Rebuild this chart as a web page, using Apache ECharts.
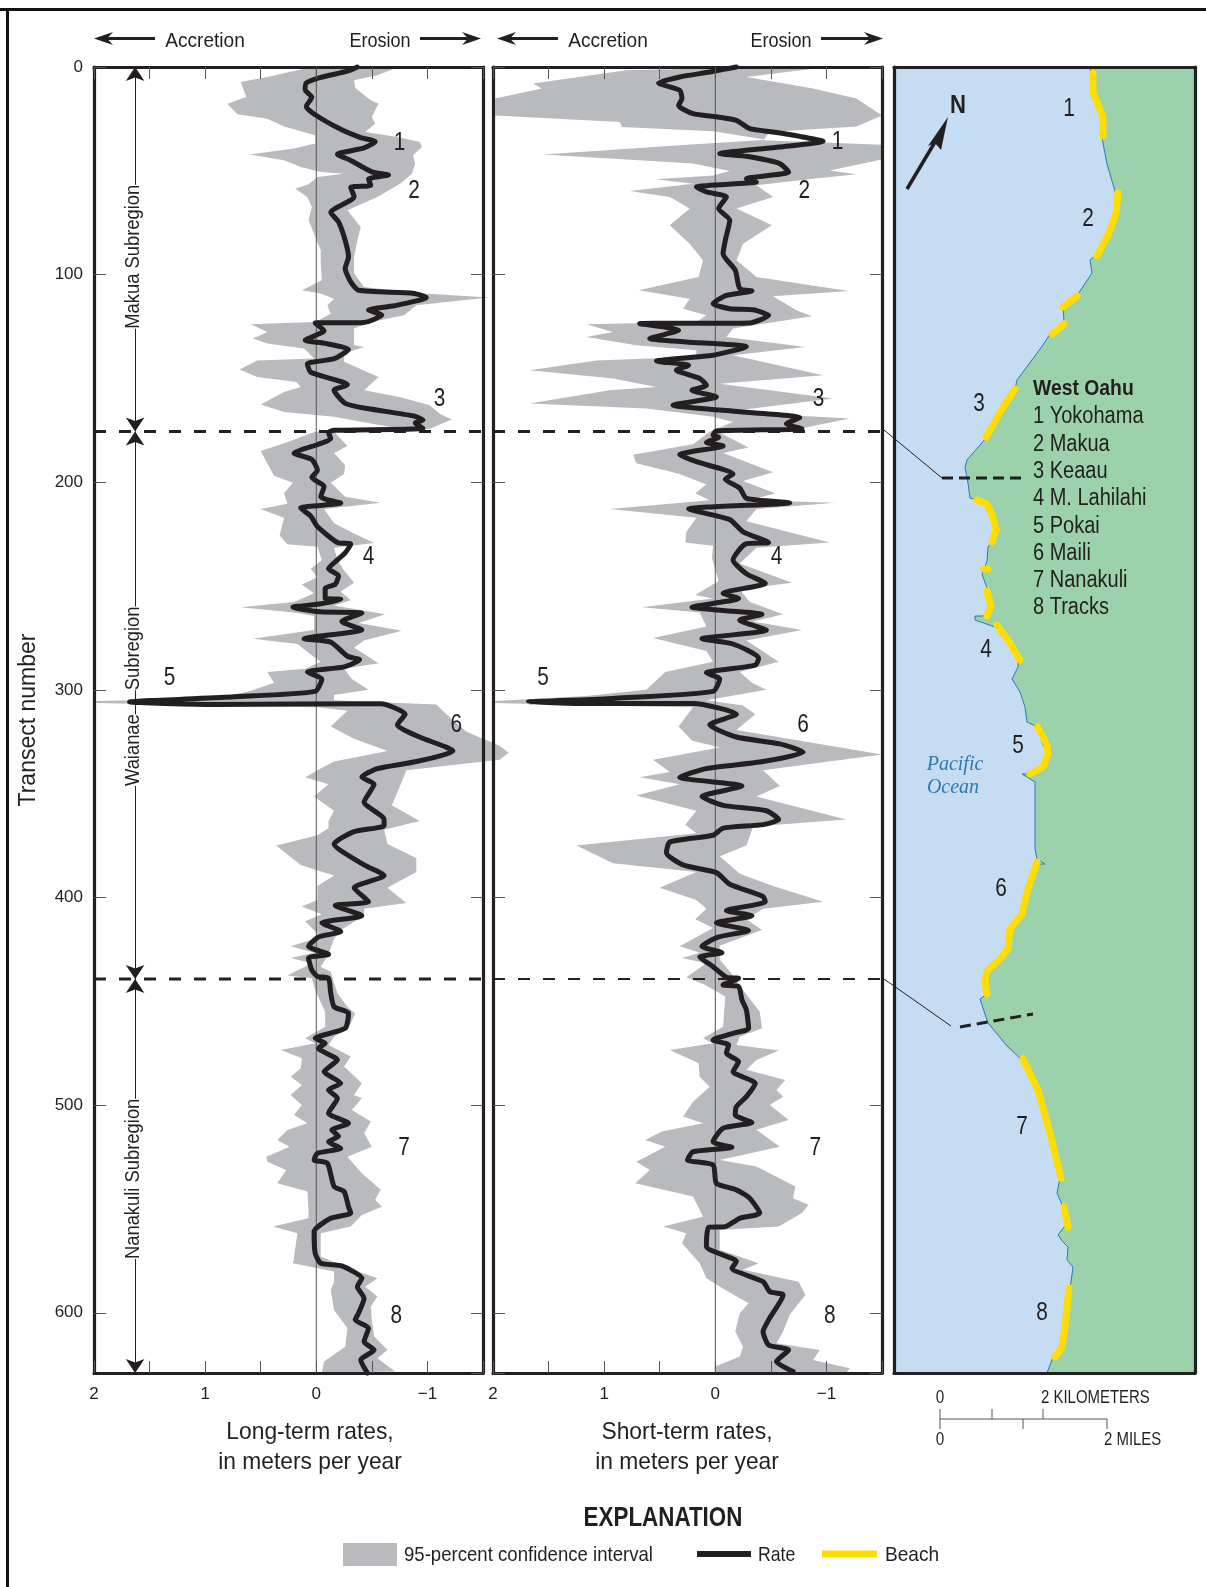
<!DOCTYPE html>
<html><head><meta charset="utf-8">
<style>html,body{margin:0;padding:0;background:#fff}#c{width:1206px;height:1587px}</style>
<script src="https://cdn.jsdelivr.net/npm/echarts@6/dist/echarts.min.js"></script>
</head><body><div id="c"></div>
<script>
// All pairs are [rate in m/yr, transect number]
const longRate=[[-0.37,0],[-0.28,2],[-0.04,5],[0.09,7.7],[0.10,11],[0.04,14.5],[0.09,19],[0.01,23],[-0.22,30],[-0.40,34],[-0.53,36],[-0.43,39],[-0.19,42],[-0.31,45],[-0.50,50.5],[-0.65,52],[-0.47,54],[-0.49,57],[-0.31,58],[-0.34,62.5],[-0.13,70],[-0.20,74.6],[-0.26,83.5],[-0.29,91.5],[-0.26,97],[-0.31,103.5],[-0.38,107.5],[-0.87,109],[-0.99,111],[-0.70,115],[-0.47,117],[-0.59,119.5],[-0.43,123],[0.01,123.3],[-0.07,127],[0.10,131.6],[-0.07,133],[-0.29,136],[-0.16,140.5],[0.08,143],[0.05,147],[-0.28,153],[-0.16,155.7],[-0.26,162],[-0.46,164.5],[-0.87,168],[-0.96,170],[-0.89,171.4],[-0.96,174],[-0.16,175],[-0.11,176],[-0.13,179],[-0.02,181.7],[0.20,186],[0.04,189],[-0.01,194.3],[0.04,197.7],[-0.07,202],[-0.04,207],[-0.22,210],[0.14,212.4],[0.05,216.3],[-0.01,221.3],[-0.19,229],[-0.31,229.8],[-0.26,234],[-0.19,237.4],[-0.11,241.6],[-0.20,245],[-0.17,249.2],[-0.08,251],[-0.08,256],[-0.22,256.3],[-0.04,258.5],[0.21,260.2],[-0.04,262.4],[-0.41,263],[-0.23,267],[-0.41,271],[0.11,275.4],[-0.13,277],[-0.28,283.8],[-0.39,285.5],[-0.25,288.9],[0.08,291.4],[-0.05,294.8],[0.01,300.7],[0.74,303.3],[1.68,305.8],[0.92,307],[-0.58,306.7],[-0.80,311.7],[-0.73,316.8],[-0.93,322.7],[-1.23,329.4],[-0.90,334.5],[-0.55,337.9],[-0.41,342],[-0.52,345.5],[-0.43,354],[-0.61,362.4],[-0.61,365.4],[-0.34,368.3],[-0.16,374.2],[-0.43,384.3],[-0.61,389.4],[-0.34,395.3],[-0.47,402],[-0.17,403.8],[-0.41,408.8],[-0.05,412.2],[-0.22,416.4],[-0.02,419],[0.07,423.5],[-0.11,427.4],[0.07,429.1],[0.04,435],[-0.01,438],[-0.11,438.9],[-0.13,446],[-0.16,452.6],[-0.29,455.8],[-0.26,463],[0.01,467.8],[-0.08,470.2],[-0.02,472.6],[-0.19,478.2],[-0.07,483.9],[-0.22,489.5],[-0.11,492.7],[-0.19,496.7],[-0.11,503.9],[-0.29,508.7],[-0.14,512],[-0.20,515],[-0.11,517.6],[-0.22,520.8],[-0.01,523.2],[0.02,526.4],[-0.10,528],[-0.16,539.2],[-0.25,541.6],[-0.29,548.9],[-0.31,552],[-0.13,554.5],[0.02,560.9],[0.01,571.3],[-0.04,576.1],[-0.23,577.4],[-0.41,583.4],[-0.37,587.4],[-0.43,593],[-0.38,600.2],[-0.35,603.4],[-0.47,607.4],[-0.43,613.9],[-0.52,617.9],[-0.40,622.7],[-0.46,629]];
const longUpper=[[0.11,0.8],[0.44,4.8],[0.68,7.2],[0.63,14.4],[0.80,17.7],[0.71,22.8],[0.44,24.9],[0.29,28.6],[0.01,32.9],[0.01,36.9],[0.20,39.3],[0.60,42.1],[0.29,44.9],[0.14,48.2],[-0.04,50.6],[-0.25,51.4],[-0.01,53],[0.07,56.5],[0.19,58.6],[0.08,62.6],[0.04,67.4],[0.07,73.8],[0.02,80.3],[-0.04,88.3],[-0.04,94.7],[-0.05,102.7],[0.13,107.5],[-0.04,109.1],[-0.16,111.6],[-0.10,114.8],[-0.13,118.8],[0.01,122.8],[0.59,123.9],[0.44,127.6],[0.57,130.8],[0.44,133.2],[0.11,135.6],[0.02,140.4],[0.53,141.3],[0.69,145.7],[0.53,149.3],[0.18,151.7],[0.14,154.1],[0.29,156.5],[0.50,162.6],[0.29,166.1],[-0.16,168.5],[-0.40,170.9],[-0.76,174.2],[-0.16,175],[0.01,175.7],[0.27,180.8],[0.50,185],[0.44,191],[0.38,196.9],[0.21,200.2],[0.29,205.3],[0.26,210.4],[0.50,212.9],[0.29,217.1],[0.33,225.6],[0.26,229.8],[-0.01,231],[-0.05,237.4],[0.05,241.6],[-0.01,245.8],[0.13,249.2],[0.02,253.4],[0.20,257.7],[0.68,260.2],[0.20,262.7],[0.02,264.4],[0.02,271.2],[0.57,275.4],[0.17,277.9],[0.05,283],[-0.04,286.4],[0.10,289.8],[0.44,291.4],[0.38,296.5],[0.60,300.7],[0.92,304.1],[1.98,305.3],[1.98,306.3],[0.92,307.5],[-0.01,308.3],[-0.28,310],[-0.13,317.6],[-0.34,323.5],[-0.64,329.4],[-0.16,334.5],[-0.01,338.7],[0.10,342.1],[-0.11,345.5],[0.02,351.4],[-0.16,358.2],[-0.11,363.2],[-0.11,366.6],[-0.01,370],[0.36,375],[0.14,384.3],[-0.16,389.4],[-0.01,394.5],[-0.01,401.2],[0.13,404.3],[-0.05,408],[0.10,411.4],[-0.04,419],[0.23,423.5],[0.02,426.6],[0.23,429.1],[0.04,431.6],[0.26,437.5],[0.04,438.9],[0.01,444.5],[-0.08,455],[-0.08,462.2],[0.10,467.8],[0.01,470.2],[0.32,473.4],[0.13,477.4],[0.14,482.2],[0.23,486.3],[0.13,490.3],[0.23,495.1],[0.13,499.9],[0.20,504.7],[0.08,508.7],[0.26,512],[0.35,516.8],[0.24,520],[0.45,524.8],[0.44,527.2],[0.27,531.2],[0.35,537.6],[0.08,541.6],[0.07,550.5],[0.07,554.5],[0.39,558.5],[0.17,561.7],[0.20,572.9],[0.21,576.1],[-0.16,580.1],[-0.16,585],[-0.13,589],[-0.16,598.6],[-0.28,607.4],[-0.26,616.3],[-0.07,623.5],[-0.05,628.8]];
const longLower=[[-0.70,0.8],[-0.55,4],[-0.34,6.4],[-0.35,10],[-0.49,16],[-0.56,17.7],[-0.50,24],[-0.53,27.3],[-0.44,31.3],[-0.73,33.7],[-0.93,36.1],[-0.95,38.5],[-0.87,42.5],[-0.89,46.5],[-0.86,51.4],[-0.76,56],[-0.55,62.6],[-0.28,69],[-0.40,77],[-0.37,83.5],[-0.34,91.5],[-0.34,99.5],[-0.43,106],[-0.90,108.8],[-1.55,111],[-0.90,114.8],[-0.79,119.6],[-0.49,122.8],[-0.34,126],[-0.34,134],[-0.43,134.8],[-0.25,138],[-0.25,142],[-0.56,149.3],[-0.43,155.7],[-0.76,159],[-1.02,162.9],[-1.11,167],[-1.22,169.8],[-1.02,174.2],[-0.28,175.3],[-0.16,175.7],[-0.28,182.5],[-0.16,185.9],[-0.26,191.8],[-0.25,196],[-0.13,200.2],[-0.26,207],[-0.58,209.9],[-0.07,212.9],[-0.16,219.7],[-0.34,224.7],[-0.52,229.3],[-0.16,231.5],[-0.19,237.4],[-0.25,242.5],[-0.34,248.4],[-0.22,252.6],[-0.31,256.8],[-0.16,259.4],[-0.62,263.6],[-0.38,267.8],[-0.77,271.5],[-0.43,276.2],[-0.34,279.6],[-0.56,287.2],[-0.25,289.8],[-0.32,294.8],[-0.47,299.9],[-0.16,302.4],[-0.16,305],[-1.08,307],[-1.17,311.7],[-1.35,320.2],[-1.65,326.9],[-1.73,330.3],[-1.65,333.7],[-0.81,338.7],[-0.76,345.5],[-0.68,355.6],[-0.93,363.2],[-0.61,367.4],[-0.64,374.2],[-0.90,381],[-0.90,387.7],[-0.64,395.3],[-0.81,402.6],[-0.43,405.4],[-0.43,408.8],[-0.22,415.6],[-0.16,419.8],[-0.11,427.4],[-0.04,433.3],[-0.13,435.7],[-0.16,441.3],[-0.19,446.1],[-0.28,452.6],[-0.35,455.8],[-0.29,463],[-0.16,467],[-0.11,471],[-0.31,476.6],[-0.25,481.4],[-0.41,489.5],[-0.34,495.1],[-0.41,496.7],[-0.32,502.3],[-0.49,507.9],[-0.43,513.5],[-0.50,520],[-0.28,524.8],[-0.41,532.8],[-0.58,540.8],[-0.53,545.6],[-0.59,548.9],[-0.41,552.9],[-0.31,558.5],[-0.04,561.7],[-0.04,572.9],[-0.25,577.7],[-0.55,583.4],[-0.44,587.4],[-0.55,592.2],[-0.49,597],[-0.50,603.4],[-0.52,611.4],[-0.64,617.9],[-0.55,621.9],[-0.71,628.3]];
const shortRate=[[-0.19,0],[0.05,2.4],[0.32,4.8],[0.51,7.7],[0.32,11.2],[0.30,15.2],[0.33,18.5],[0.20,22.5],[-0.01,24],[-0.19,25.7],[-0.31,29.7],[-0.52,31.3],[-0.76,33.4],[-0.97,35.8],[-0.58,38.5],[-0.04,41.7],[-0.28,43],[-0.58,46.5],[-0.66,50.6],[-0.28,53.8],[-0.37,55.4],[0.17,57.8],[0.08,60.2],[-0.10,62.6],[-0.03,68.2],[-0.13,73.8],[-0.09,83.5],[-0.07,89.9],[-0.18,97.9],[-0.22,106.7],[-0.33,107.9],[-0.10,110],[0.02,114],[-0.13,116.4],[-0.34,116.9],[-0.48,119.6],[-0.31,123.3],[0.68,123.6],[0.33,126.8],[0.59,130.8],[0.26,132.4],[-0.28,134.7],[0.02,138.8],[0.53,141.6],[0.24,143.7],[0.35,146],[0.14,150],[0.08,153.3],[0.21,155.7],[-0.01,158.9],[0.38,162.9],[0.02,165],[-0.76,168.9],[-0.64,171.8],[-0.78,174.2],[-0.01,175.3],[0.02,177.4],[-0.03,178.3],[0.08,180.8],[-0.07,182.5],[0.32,186.7],[0.17,190.1],[-0.16,196],[-0.09,198.5],[-0.22,202.8],[-0.28,207.8],[-0.67,209.9],[0.24,212.9],[-0.13,218],[-0.25,223.9],[-0.48,229],[-0.27,229.8],[-0.16,237.4],[-0.28,244.1],[-0.45,248.7],[-0.07,253.4],[-0.21,256],[-0.06,257.7],[0.21,260.2],[-0.10,261.9],[-0.42,263.6],[-0.22,266.4],[-0.46,271.2],[0.12,275.4],[-0.16,277.9],[-0.39,284.7],[-0.36,288.1],[0.08,291.8],[-0.04,294.8],[0.02,300.7],[0.92,304.1],[1.68,305.8],[0.92,306.6],[0.20,306.6],[-0.19,311.7],[0.05,316.8],[-0.19,322.7],[-0.58,326],[-0.79,330],[-0.43,334.5],[0.08,337.9],[0.32,342.1],[-0.24,346.3],[0.12,351.4],[-0.07,355.6],[-0.46,358.2],[-0.57,362.4],[-0.43,364.9],[-0.07,366.6],[0.02,370],[0.41,373.3],[0.44,378.4],[0.29,384.3],[-0.01,388],[-0.13,393.6],[-0.43,399.5],[-0.45,402],[-0.10,406.3],[-0.33,408.8],[-0.01,412.2],[-0.30,415.9],[-0.03,419],[0.12,423.5],[-0.06,426.6],[0.14,428.6],[0.02,433.3],[-0.10,438.4],[-0.21,438.9],[-0.07,442.1],[-0.21,442.9],[-0.24,449.3],[-0.28,454.2],[-0.30,463],[-0.16,465.4],[0.02,468.6],[-0.12,471],[-0.10,475],[-0.21,479],[-0.16,483.9],[-0.36,489.5],[-0.28,495.9],[-0.19,500.7],[-0.18,504.7],[-0.33,508.4],[-0.07,511.1],[0.02,517.6],[-0.15,520.3],[0.20,522.4],[0.25,526.4],[0.02,528.8],[-0.01,537.6],[-0.19,540.8],[-0.31,544.8],[-0.40,552],[-0.22,554.5],[-0.09,558.5],[0.06,558.8],[0.08,568.1],[-0.19,575.3],[-0.15,578.5],[-0.43,585],[-0.49,589.8],[-0.61,591.4],[-0.48,603.4],[-0.43,609],[-0.48,615.5],[-0.66,617.9],[-0.55,623.5],[-0.70,628.3]];
const shortUpper=[[0.17,0.8],[0.80,1.6],[1.64,8],[1.56,10.4],[1.98,15.2],[1.98,23.3],[0.86,26.5],[0.84,28.9],[0.02,31],[-0.46,35],[0.32,37.7],[1.55,42.1],[0.20,46.5],[-0.13,50.1],[0.02,52.2],[0.54,54.1],[0.20,56.2],[0.77,59.7],[0.41,62.6],[0.23,68.2],[0.41,76.2],[0.23,85.1],[0.11,93.1],[0.15,101.1],[0.69,107.5],[0.23,111.6],[0.29,116.4],[0.08,119.6],[0.17,122.8],[1.16,123.9],[0.92,127.6],[1.16,130],[0.71,134],[0.17,136.4],[0.17,139.6],[1.07,141.3],[1.67,146],[0.92,150],[0.53,154.1],[0.95,155.7],[1.67,162.1],[0.62,164.5],[0.02,168.5],[-0.16,171],[0.02,175],[0.05,175.7],[0.20,181.7],[0.74,186.7],[0.71,190.9],[0.32,196],[0.08,201.1],[0.18,205.3],[0.05,208.7],[0.95,212.9],[0.17,217.1],[0.26,223.9],[0.27,229],[0.02,230.6],[0.03,236.5],[-0.03,247.5],[0.18,254.3],[0.02,256],[0.66,260.2],[0.14,262.7],[0.08,269.5],[0.56,275],[0.08,281.3],[0.02,286.4],[0.45,291.4],[0.62,299.9],[1.16,302.9],[1.98,305.3],[1.98,306.3],[1.16,307.5],[0.20,308.3],[0.33,317.6],[0.21,324.4],[-0.04,327.8],[0.56,333.7],[0.41,339.6],[0.68,342.1],[0.32,345.5],[0.71,350.9],[0.17,358.2],[0.27,364.9],[0.17,369.1],[1.25,375],[0.92,383.5],[0.17,387.7],[0.50,395.3],[0.17,401.2],[0.08,405.4],[0.18,410.5],[0.02,414.7],[0.32,423.5],[0.14,426.6],[0.30,429.1],[0.08,431.6],[0.26,438.4],[0.09,442.1],[-0.09,447.7],[-0.07,462.2],[0.11,467.8],[0.02,470.2],[0.41,473.4],[0.15,479.8],[0.14,486.3],[0.05,491.1],[0.20,498.3],[0.29,505.5],[0.11,508.7],[0.48,512.7],[0.63,516.8],[0.45,520],[0.71,527.2],[0.59,531.2],[0.72,537.6],[0.20,544],[0.11,553.7],[0.47,558.5],[0.26,561.7],[0.30,566.5],[0.14,576.1],[0.08,583.4],[-0.09,589],[-0.30,595.4],[-0.22,600.2],[-0.18,609],[-0.25,616.3],[-0.22,621.1],[0,625.9],[-0.01,628.8]];
const shortLower=[[-0.88,0.8],[-0.28,4.8],[-0.88,10.4],[-1.27,15.2],[-1.50,23.3],[-1.27,28.6],[-0.49,31.3],[-0.43,35.3],[-1.50,37.4],[-1.50,44.6],[-1.03,49.8],[-1.27,51.7],[-0.88,53.8],[-0.37,57],[-0.52,62.6],[-0.19,68.2],[-0.51,76.2],[-0.25,85.1],[-0.19,93.1],[-0.37,101.1],[-1.20,107.9],[-0.52,110.4],[-0.73,117.2],[-0.87,120.1],[-0.43,123.6],[-0.16,126],[-0.10,130],[-0.81,134.8],[-0.16,138.8],[-0.97,148.5],[-0.04,152.5],[-1.06,159.7],[-0.10,166],[-1.21,169.3],[-0.76,174.2],[-0.01,175.3],[-0.30,183.3],[-0.07,185.9],[-0.52,195.2],[-0.25,199.4],[-0.54,205.3],[-0.31,208.7],[-1.08,209.9],[-0.37,212.9],[-0.28,218.8],[-1.03,229],[-0.37,231.5],[-0.22,239.1],[-0.69,248.4],[-0.22,251.7],[-0.31,257.7],[-0.61,263.6],[-0.34,267],[-0.78,271.2],[-0.28,276.2],[-0.57,286.4],[-0.22,291.4],[-0.33,296.5],[-0.46,299.9],[0.08,305],[-0.25,307.5],[-0.36,311.7],[-0.19,319.3],[-1.50,331.1],[-0.43,338.7],[-0.58,346.3],[-0.37,351.4],[-1.18,362.4],[-0.34,365.8],[-0.28,375],[-0.04,380.1],[-0.22,388.6],[-0.52,394.5],[-0.97,402],[-0.43,405.4],[-0.28,410.5],[-0.42,415.6],[-0.04,423.2],[-0.04,429.9],[-0.16,437.5],[-0.25,444.5],[-0.40,455],[-0.42,463],[-0.22,467],[-0.19,471],[-0.57,473.7],[-0.37,478.2],[-0.28,483],[-0.63,487.9],[-0.55,492.7],[-0.61,495.9],[-0.49,499.9],[-0.66,507.1],[-0.37,511.9],[-0.58,520],[-0.04,526.4],[-0.37,529.6],[-0.72,539.2],[-0.70,544.8],[-0.84,548],[-0.78,552],[-0.57,558.5],[-0.04,560.1],[-0.04,569.7],[-0.39,576.1],[-0.25,579.3],[-0.75,585],[-0.81,591.4],[-0.67,601],[-0.61,609],[-0.55,614.7],[-0.94,617.9],[-0.88,622.7],[-1.21,626.7],[-1.18,628.8]];
const boundaries=[175.5,439.3];
const longNumbers=[[-0.75,36.3,'1'],[-0.88,59.8,'2'],[-1.11,160,'3'],[-0.47,236,'4'],[1.32,294.3,'5'],[-1.26,317,'6'],[-0.79,520.6,'7'],[-0.72,601.7,'8']];
const shortNumbers=[[-1.10,35.8,'1'],[-0.80,59.8,'2'],[-0.93,160,'3'],[-0.55,236,'4'],[1.55,294.3,'5'],[-0.79,317,'6'],[-0.90,520.6,'7'],[-1.03,601.7,'8']];
const subregionSpans=[[0,175.5],[175.5,439.3],[439.3,629]];
const subregionLabels=[[1.645,91.4,'Makua Subregion'],[1.645,280,'Subregion'],[1.645,329,'Waianae'],[1.645,535.5,'Nanakuli Subregion']];
// map panel, in map units (east, south)
const coast=[[196,0.7],[198,12.5],[199,29],[208,52],[208,71],[213,97],[221,124],[223,143],[216,168],[201,189],[196,193],[198,206],[184,227],[169,240],[170,254],[156,267],[149,278],[123,313],[121,322],[106,345],[93,370],[73,393],[71,400],[74,416],[76,431],[84,433],[98,444],[103,463],[98,475],[94,480],[93,494],[88,507],[94,524],[98,539],[93,549],[81,549],[81,553],[101,560],[114,576],[124,593],[124,600],[118,612],[126,625],[131,640],[133,655],[144,660],[149,678],[156,688],[151,700],[136,707],[128,707],[141,715],[141,782],[143,792],[151,797],[143,797],[133,825],[128,847],[116,862],[114,882],[104,894],[93,904],[89,914],[93,927],[86,932],[94,956],[113,979],[129,994],[143,1021],[153,1056],[159,1081],[166,1111],[163,1126],[169,1140],[174,1155],[164,1168],[169,1175],[174,1180],[173,1193],[179,1200],[176,1222],[171,1260],[166,1280],[159,1290],[153,1306]];
const beaches=[[[199,6],[199,25],[209,50],[209,69]],[[224,126],[222,147],[214,168],[203,189]],[[183,229],[169,240]],[[170,257],[158,267]],[[121,322],[106,345],[101,355],[92,370]],[[83,433],[93,437],[99,450],[102,463],[98,475]],[[90,502],[94,502]],[[93,524],[97,539],[93,549]],[[103,558],[116,576],[126,593]],[[144,660],[153,678],[154,688],[149,700],[136,707]],[[143,795],[133,825],[128,847],[116,862],[114,882],[104,894],[93,904],[91,914],[93,927]],[[129,992],[144,1023],[156,1066],[167,1111]],[[170,1140],[174,1160]],[[175,1221],[171,1260],[168,1280],[161,1290]]];
const mapDivides=[[[48,411],[130,411]],[[66,960],[139,947]]];
const mapNumbers=[[175,42,'1'],[194,152,'2'],[85,337,'3'],[92,583,'4'],[124,679,'5'],[107,822,'6'],[128,1060,'7'],[148,1246,'8']];
const beachList=['1 Yokohama','2 Makua','3 Keaau','4 M. Lahilahi','5 Pokai','6 Maili','7 Nanakuli','8 Tracks'];

const FONT="'Liberation Sans',sans-serif";
const INK='#231f20',GREY='#b9babd',TICK='#555',YELLOW='#ffdd00';
const chart=echarts.init(document.getElementById('c'),null,{renderer:'canvas'});

function polygon(idx,points,fill,z){
  return {type:'custom',coordinateSystem:'cartesian2d',xAxisIndex:idx,yAxisIndex:idx,silent:true,z,data:[[0,0]],
    renderItem:(p,api)=>({type:'polygon',shape:{points:points.map(d=>api.coord(d))},style:{fill}})};
}
function line(idx,data,color,width,z,extra,smooth){
  return {type:'line',xAxisIndex:idx,yAxisIndex:idx,data,symbol:'none',silent:true,clip:false,z,animation:false,smooth:smooth||false,
    lineStyle:Object.assign({color,width,cap:'round',join:'round'},extra||{})};
}
// Condensed type is not installed, so the label text is narrowed with a horizontal scale.
function labels(idx,items,size,scaleX,rotation,bg,z){
  return {type:'custom',coordinateSystem:'cartesian2d',xAxisIndex:idx,yAxisIndex:idx,silent:true,clip:false,z:z||8,
    data:items.map(d=>[d[0],d[1]]),
    renderItem:(p,api)=>{const d=items[p.dataIndex],c=api.coord([d[0],d[1]]);
      return {type:'text',x:c[0],y:c[1],rotation:rotation||0,scaleX,scaleY:1,
        style:{text:d[2],fontFamily:FONT,fontSize:size,fill:INK,textAlign:'center',textVerticalAlign:'middle',
          backgroundColor:bg||undefined}};}};
}
const frameX=(idx,pos,min,max,show,extra)=>Object.assign({type:'value',gridIndex:idx,position:pos,min,max,z:10,
  axisLine:{show:true,onZero:false,lineStyle:{color:INK,width:3.2}},splitLine:{show:false},
  axisTick:{show,inside:true,length:12,lineStyle:{color:TICK,width:1}},axisLabel:{show:false}},extra||{});
const bottomLabels={axisLabel:{show:true,margin:13,fontFamily:FONT,fontSize:17,color:INK,
  formatter:v=>Number.isInteger(v)?(v<0?'\u2212'+(-v):String(v)):''}};
const rateAxis=(idx,pos,labelled)=>frameX(idx,pos,-1.5,2,true,Object.assign({inverse:true,interval:0.5},labelled?bottomLabels:{}));
const transAxis=(idx,pos,extra)=>frameX(idx,pos,0,629,true,Object.assign({inverse:true,interval:100},extra||{}));

const xAxis=[rateAxis(0,'bottom',true),rateAxis(1,'bottom',true),
  frameX(2,'bottom',0,301,false,{}),
  rateAxis(0,'top'),rateAxis(1,'top'),frameX(2,'top',0,301,false,{})];
const yAxis=[transAxis(0,'left',{name:'Transect number',nameLocation:'middle',nameGap:54,nameRotate:90,
    nameTextStyle:{fontFamily:FONT,fontSize:23,color:INK},
    axisLabel:{show:true,margin:11,fontFamily:FONT,fontSize:17,color:INK,padding:[12,0,0,0],
      formatter:v=>v%100===0?String(v):'',showMaxLabel:false}}),
  transAxis(1,'left'),
  frameX(2,'left',0,1306,false,{inverse:true}),
  transAxis(0,'right'),transAxis(1,'right'),frameX(2,'right',0,1306,false,{inverse:true})];

const zeroLine=[[0,0],[0,629]];
const arrowMark={silent:true,symbol:['arrow','arrow'],symbolSize:14,label:{show:false},animation:false,
  lineStyle:{color:INK,width:1,type:'solid'},
  data:subregionSpans.map(s=>[{coord:[1.63,s[0]]},{coord:[1.63,s[1]]}])};
const series=[
  polygon(0,longLower.concat(longUpper.slice().reverse()),GREY,2),
  polygon(1,shortLower.concat(shortUpper.slice().reverse()),GREY,2),
  Object.assign(line(0,zeroLine,TICK,1,3,{cap:'butt'}),{markLine:arrowMark}),
  line(1,zeroLine,TICK,1,3,{cap:'butt'}),
  line(0,[[2,boundaries[0]],[-1.5,boundaries[0]]],INK,3,4,{type:[12,13],cap:'butt'}),
  line(0,[[2,boundaries[1]],[-1.5,boundaries[1]]],INK,3,4,{type:[12,13],cap:'butt'}),
  line(1,[[2,boundaries[0]],[-1.5,boundaries[0]]],INK,3,4,{type:[12,13],cap:'butt'}),
  line(1,[[2,boundaries[1]],[-1.5,boundaries[1]]],INK,2,4,{type:[12,13],cap:'butt'}),
  line(0,longRate,INK,5,5,null,0.2),
  line(1,shortRate,INK,5,5,null,0.2),
  labels(0,longNumbers,26,0.8),
  labels(1,shortNumbers,26,0.8),
  labels(0,subregionLabels,21,0.875,Math.PI/2,'#fff',6),
  polygon(2,coast.concat([[301,1306],[301,0]]),'#9bd1ab',2),
  line(2,coast,'#2a7ab8',1,3),
].concat(beaches.map(b=>line(2,b,YELLOW,7,4)))
 .concat(mapDivides.map(d=>line(2,d,INK,3,5,{type:[11,6],cap:'butt'})))
 .concat([labels(2,mapNumbers,26,0.8)]);

const g=[];
const text=(t,x,y,sx,o)=>g.push({type:'text',z:100,silent:true,x,y,scaleX:sx,style:Object.assign({text:t,fontFamily:FONT,fontSize:22,fill:INK,textAlign:'center',textVerticalAlign:'middle'},o||{})});
const seg=(x1,y1,x2,y2,w,c)=>g.push({type:'line',z:100,silent:true,shape:{x1,y1,x2,y2},style:{stroke:c||INK,lineWidth:w||1}});
const arrow=(from,to,y)=>{const s=to>from?1:-1;seg(from,y,to-s*10,y,3);
  g.push({type:'polygon',z:100,silent:true,shape:{points:[[to,y],[to-s*19,y-6.5],[to-s*13,y],[to-s*19,y+6.5]]},style:{fill:INK}});};
// outer frame
seg(0,9.5,1206,9.5,3,'#111');seg(7.5,8,7.5,1587,3,'#111');
// headers
[[155,94,205,'Accretion',0.91],[420,481,380,'Erosion',0.86],[558,497,608,'Accretion',0.91],[821,883,781,'Erosion',0.86]].forEach(a=>{
  arrow(a[0],a[1],38.5);text(a[3],a[2],41,a[4],{fontSize:21});});
text('Long-term rates,',310,1432,0.95,{fontSize:24});text('in meters per year',310,1462,0.95,{fontSize:24});
text('Short-term rates,',687,1432,0.95,{fontSize:24});text('in meters per year',687,1462,0.95,{fontSize:24});
// leaders
seg(884,430,942,478,1);seg(884,979,951,1026,1);
// north arrow
seg(907,189,935,142,3.5);
g.push({type:'polygon',z:100,silent:true,shape:{points:[[948,117],[941,150],[935,143],[928,146]]},style:{fill:INK}});
text('N',958,106,0.85,{fontSize:26,fontWeight:'bold'});
// key
text('West Oahu',1033,389,0.88,{textAlign:'left',fontWeight:'bold',fontSize:22});
beachList.forEach((b,i)=>text(b,1033,417+i*27.3,0.87,{textAlign:'left',fontSize:23}));
text('Pacific',955,765,1,{fontFamily:"'Liberation Serif',serif",fontStyle:'italic',fontSize:20,fill:'#2a7ab8'});
text('Ocean',953,788,1,{fontFamily:"'Liberation Serif',serif",fontStyle:'italic',fontSize:20,fill:'#2a7ab8'});
// scale bar
seg(940,1419,1107,1419,1,TICK);seg(940,1409,940,1429,1,TICK);seg(992,1409,992,1419,1,TICK);seg(1043,1409,1043,1419,1,TICK);seg(1023,1419,1023,1429,1,TICK);seg(1107,1419,1107,1429,1,TICK);
text('0',940,1398,0.85,{fontSize:18});text('2 KILOMETERS',1041,1398,0.83,{fontSize:18,textAlign:'left'});
text('0',940,1440,0.85,{fontSize:18});text('2 MILES',1104,1440,0.83,{fontSize:18,textAlign:'left'});
// explanation
text('EXPLANATION',663,1518,0.8,{fontSize:28,fontWeight:'bold'});
g.push({type:'rect',z:100,silent:true,shape:{x:343,y:1543,width:54,height:23},style:{fill:GREY}});
text('95-percent confidence interval',404,1555,0.885,{fontSize:21,textAlign:'left'});
seg(697,1554,751,1554,6);text('Rate',758,1555,0.84,{fontSize:21,textAlign:'left'});
seg(822,1554,877,1554,7,YELLOW);text('Beach',885,1555,0.91,{fontSize:21,textAlign:'left'});

chart.setOption({animation:false,backgroundColor:'#fff',
  grid:[{left:94,top:67,width:389,height:1306},{left:493,top:67,width:389,height:1306},
        {left:894,top:67,width:301,height:1306,show:true,backgroundColor:'#c6dcf2',borderWidth:0}],
  xAxis,yAxis,series,graphic:g});
</script></body></html>
